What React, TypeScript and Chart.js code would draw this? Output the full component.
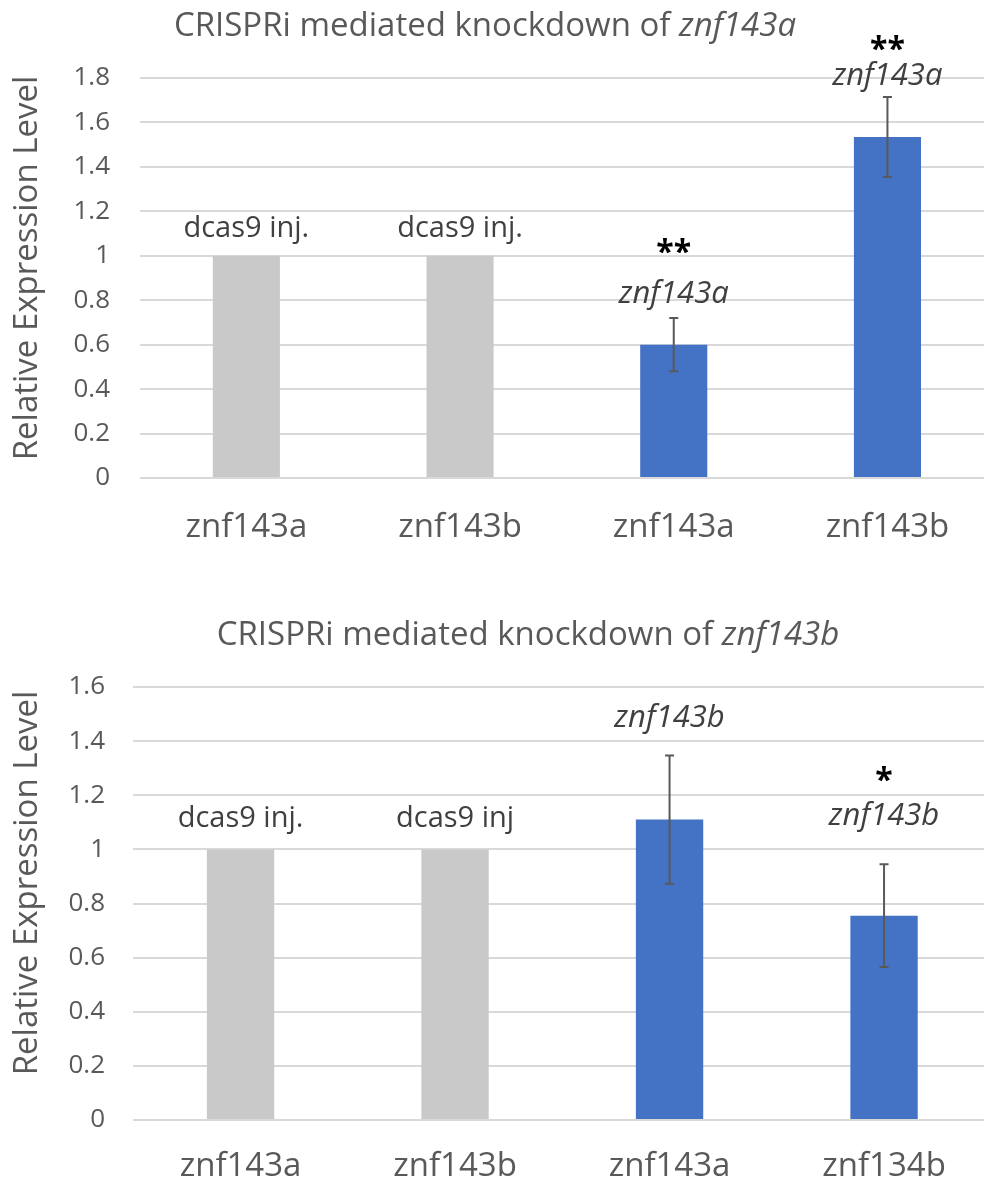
import React, { useEffect, useRef } from "react";
import { Chart, registerables } from "chart.js";

Chart.register(...registerables);

// ---------- Data ----------
const categoriesA = ["znf143a", "znf143b", "znf143a", "znf143b"];
const valuesA = [1, 1, 0.6, 1.535];
const errorsA = [0, 0, 0.12, 0.18];
const groupLabelsA = ["dcas9 inj.", "dcas9 inj.", "znf143a", "znf143a"];
const starsA = ["", "", "**", "**"];
const ticksA = [0, 0.2, 0.4, 0.6, 0.8, 1, 1.2, 1.4, 1.6, 1.8];

const categoriesB = ["znf143a", "znf143b", "znf143a", "znf134b"];
const valuesB = [1, 1, 1.11, 0.755];
const errorsB = [0, 0, 0.237, 0.19];
const groupLabelsB = ["dcas9 inj.", "dcas9 inj", "znf143b", "znf143b"];
const starsB = ["", "", "", "*"];
const ticksB = [0, 0.2, 0.4, 0.6, 0.8, 1, 1.2, 1.4, 1.6];

const italicLabels = [false, false, true, true];
const GRAY = "#c9c9c9";
const BLUE = "#4472c4";
const barColors = [GRAY, GRAY, BLUE, BLUE];

const FONT = "'Open Sans', 'DejaVu Sans', sans-serif";
const TEXT_GRAY = "#595959";

type Layout = {
  canvasTop: number;
  canvasHeight: number;
  plotTop: number;
  plotBottom: number;
  plotLeft: number;
  plotRight: number;
  titleX: number;
  titleBaseline: number;
  titleItalic: string;
  yTitleX: number;
  yTitleY: number;
  labelGap: number[];
  starGap: number[];
  xPad: number;
  yTickRight: number;
};

const overlayPlugin = {
  id: "overlay",
  afterDatasetsDraw(chart: any, _args: any, opts: any) {
    const { ctx } = chart;
    const x = chart.scales.x;
    const y = chart.scales.y;
    const L: Layout = opts.layout;
    const values: number[] = opts.values;
    const errors: number[] = opts.errors;
    const labels: string[] = opts.labels;
    const stars: string[] = opts.stars;
    ctx.save();
    // error bars
    values.forEach((v, i) => {
      const e = errors[i];
      if (!e) return;
      const cx = x.getPixelForValue(i);
      const yt = y.getPixelForValue(v + e);
      const yb = y.getPixelForValue(v - e);
      ctx.strokeStyle = "#595959";
      ctx.lineWidth = 2;
      ctx.beginPath();
      ctx.moveTo(cx, yt);
      ctx.lineTo(cx, yb);
      ctx.moveTo(cx - 4.5, yt);
      ctx.lineTo(cx + 4.5, yt);
      ctx.moveTo(cx - 4.5, yb);
      ctx.lineTo(cx + 4.5, yb);
      ctx.stroke();
    });
    // annotations
    values.forEach((v, i) => {
      const cx = x.getPixelForValue(i);
      const top = y.getPixelForValue(v + (errors[i] || 0));
      ctx.fillStyle = "#404040";
      ctx.textAlign = "center";
      ctx.textBaseline = "alphabetic";
      ctx.font = italicLabels[i] ? "italic 31px " + FONT : "29px " + FONT;
      ctx.fillText(labels[i], cx, top - L.labelGap[i]);
      if (stars[i]) {
        ctx.fillStyle = "#000000";
        ctx.font = "bold 32px " + FONT;
        ctx.textBaseline = "middle";
        ctx.fillText(stars[i], cx, top - L.starGap[i] + 6);
      }
    });
    // title
    const normal = "CRISPRi mediated knockdown of ";
    ctx.fillStyle = TEXT_GRAY;
    ctx.textBaseline = "alphabetic";
    ctx.textAlign = "left";
    ctx.font = "33px " + FONT;
    const w1 = ctx.measureText(normal).width;
    ctx.font = "italic 33px " + FONT;
    const w2 = ctx.measureText(L.titleItalic).width;
    const sx = L.titleX - (w1 + w2) / 2;
    ctx.font = "33px " + FONT;
    ctx.fillText(normal, sx, L.titleBaseline);
    ctx.font = "italic 33px " + FONT;
    ctx.fillText(L.titleItalic, sx + w1, L.titleBaseline);
    // y title
    ctx.translate(L.yTitleX, L.yTitleY);
    ctx.rotate(-Math.PI / 2);
    ctx.textAlign = "center";
    ctx.textBaseline = "middle";
    ctx.font = "33px " + FONT;
    ctx.fillText("Relative Expression Level", 0, 0);
    ctx.restore();
  },
};

const CANVAS_W = 1000;

function BarChart(props: {
  categories: string[];
  values: number[];
  errors: number[];
  labels: string[];
  stars: string[];
  ticks: number[];
  layout: Layout;
}) {
  const ref = useRef<HTMLCanvasElement | null>(null);
  useEffect(() => {
    const L = props.layout;
    const chart = new Chart(ref.current as HTMLCanvasElement, {
      type: "bar",
      data: {
        labels: props.categories,
        datasets: [
          {
            data: props.values,
            backgroundColor: barColors,
            borderWidth: 0,
            barPercentage: 0.314,
            categoryPercentage: 1,
          },
        ],
      },
      options: {
        animation: false,
        responsive: false,
        maintainAspectRatio: false,
        layout: {
          padding: {
            top: L.plotTop,
            left: 0,
            right: CANVAS_W - L.plotRight,
            bottom: 0,
          },
        },
        plugins: {
          legend: { display: false },
          tooltip: { enabled: false },
          title: { display: false },
          overlay: {
            layout: L,
            values: props.values,
            errors: props.errors,
            labels: props.labels,
            stars: props.stars,
          },
        } as any,
        scales: {
          x: {
            grid: { display: false, drawTicks: false },
            border: { display: false },
            ticks: {
              color: TEXT_GRAY,
              font: { family: FONT, size: 33 },
              padding: L.xPad,
              maxRotation: 0,
              autoSkip: false,
            },
            afterFit: (s: any) => {
              s.height = L.canvasHeight - L.plotBottom;
            },
          },
          y: {
            min: 0,
            max: props.ticks[props.ticks.length - 1],
            afterBuildTicks: (s: any) => {
              s.ticks = props.ticks.map((v) => ({ value: v }));
            },
            grid: { color: "#d9d9d9", lineWidth: 2, drawTicks: false },
            border: { display: false },
            ticks: {
              color: TEXT_GRAY,
              font: { family: FONT, size: 26 },
              padding: L.plotLeft - L.yTickRight,
              callback: (v: any) => String(Number(Number(v).toFixed(1))),
            },
            afterFit: (s: any) => {
              s.width = L.plotLeft;
            },
          },
        },
      },
      plugins: [overlayPlugin],
    });
    return () => chart.destroy();
  }, []);
  return (
    <canvas
      ref={ref}
      width={CANVAS_W}
      height={props.layout.canvasHeight}
      style={{
        position: "absolute",
        left: 0,
        top: props.layout.canvasTop,
        width: CANVAS_W,
        height: props.layout.canvasHeight,
      }}
    />
  );
}

const layoutA: Layout = {
  canvasTop: 0,
  canvasHeight: 590,
  plotTop: 78,
  plotBottom: 478,
  plotLeft: 139.5,
  plotRight: 994.3,
  titleX: 485,
  titleBaseline: 36,
  titleItalic: "znf143a",
  yTitleX: 28,
  yTitleY: 268,
  labelGap: [19, 19, 15, 12],
  starGap: [0, 0, 70, 52],
  xPad: 30,
  yTickRight: 110,
};

const layoutB: Layout = {
  canvasTop: 590,
  canvasHeight: 598,
  plotTop: 97,
  plotBottom: 530,
  plotLeft: 133.3,
  plotRight: 991.3,
  titleX: 528,
  titleBaseline: 55,
  titleItalic: "znf143b",
  yTitleX: 28,
  yTitleY: 293,
  labelGap: [22, 22, 28, 39],
  starGap: [0, 0, 0, 88],
  xPad: 27,
  yTickRight: 105,
};

export default function App() {
  return (
    <div
      style={{
        position: "absolute",
        left: 0,
        top: 0,
        width: 984,
        height: 1188,
        overflow: "hidden",
        background: "#ffffff",
      }}
    >
      <BarChart
        categories={categoriesA}
        values={valuesA}
        errors={errorsA}
        labels={groupLabelsA}
        stars={starsA}
        ticks={ticksA}
        layout={layoutA}
      />
      <BarChart
        categories={categoriesB}
        values={valuesB}
        errors={errorsB}
        labels={groupLabelsB}
        stars={starsB}
        ticks={ticksB}
        layout={layoutB}
      />
    </div>
  );
}
